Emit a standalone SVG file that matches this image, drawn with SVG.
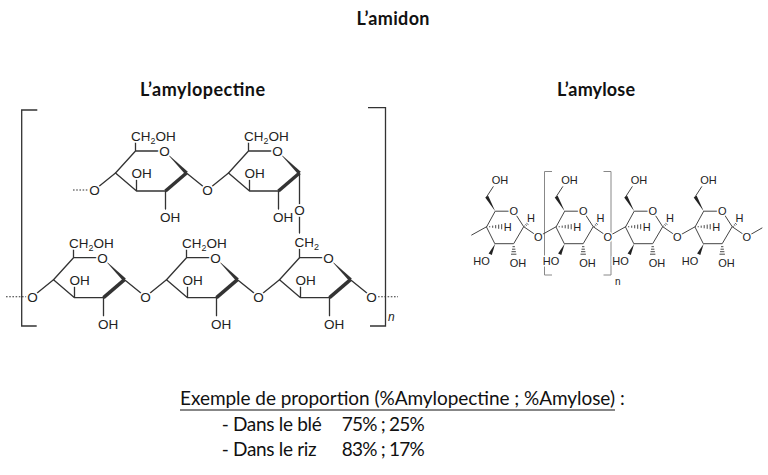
<svg xmlns="http://www.w3.org/2000/svg" width="768" height="475" viewBox="0 0 768 475">
<style>
.bg{fill:#fff}
.t{font-family:Lato,"Liberation Sans",sans-serif;fill:#111}
.tb{font-weight:bold;font-size:18px}
.tn{font-size:19px}
.b{fill:none;stroke:#333;stroke-width:1.3;stroke-linejoin:round;stroke-linecap:round}
.bold{stroke:#333;stroke-width:3.6}
.w{fill:#333;stroke:none}
.dash{fill:none;stroke:#333;stroke-width:1.1;stroke-dasharray:1.6 1.6}
.a{font-family:"Liberation Sans",Arial,sans-serif;font-size:13.5px;fill:#222;stroke:#fff;stroke-width:3.5;paint-order:stroke;stroke-linejoin:round}
.sub{font-size:9px}
.oc{fill:#fff}
.br{fill:none;stroke:#333;stroke-width:1.3}
.b2{fill:none;stroke:#444;stroke-width:1;stroke-linejoin:round;stroke-linecap:round}
.w2{fill:#222;stroke:none}
.h2{fill:none;stroke:#333;stroke-width:0.9}
.a2{font-family:"Liberation Sans",Arial,sans-serif;font-size:11px;fill:#222;stroke:#fff;stroke-width:3;paint-order:stroke;stroke-linejoin:round}
.br2{fill:none;stroke:#888;stroke-width:1}
</style>
<rect class="bg" width="768" height="475"/>

<g id="titles">
<text class="t tb" x="393" y="25" text-anchor="middle" textLength="73">L’amidon</text>
<text class="t tb" x="140" y="96" textLength="125">L’amylopectine</text>
<text class="t tb" x="557" y="96" textLength="78">L’amylose</text>
</g>

<!-- Amylopectine -->
<g id="amylopectine-brackets">
<polyline class="br" points="37.3,110 21.7,110 21.7,326 36.7,326"/>
<polyline class="br" points="368,107.7 385.5,107.7 385.5,326 370,326"/>
<text x="388" y="321" font-family="Liberation Sans,Arial,sans-serif" font-size="12" font-style="italic" fill="#222">n</text>
</g>

<g id="amylopectine-connectors">
<path class="dash" d="M73,190 H88 M6,296.7 H26.5 M378,296.7 H398"/>
<path class="b" d="M94.5,190 L115.5,173 M186.5,173 L207.5,190 L228.5,173 M299.5,173 V233 M299.5,249 V257.7"/>
<path class="b" d="M32.5,296.7 L53.5,279.7 M124.5,279.7 L145.5,296.7 L166.5,279.7 M237.5,279.7 L258.5,296.7 L279.5,279.7 M350.5,279.7 L371.5,296.7"/>
<circle class="oc" cx="94.5" cy="190" r="5.5"/>
<circle class="oc" cx="207.5" cy="190" r="5.5"/>
<circle class="oc" cx="299.5" cy="210" r="5.5"/>
<circle class="oc" cx="32.5" cy="296.7" r="5.5"/>
<circle class="oc" cx="145.5" cy="296.7" r="5.5"/>
<circle class="oc" cx="258.5" cy="296.7" r="5.5"/>
<circle class="oc" cx="371.5" cy="296.7" r="5.5"/>
<text class="a" x="94.5" y="194.8" text-anchor="middle">O</text>
<text class="a" x="207.5" y="194.8" text-anchor="middle">O</text>
<text class="a" x="299.5" y="214.8" text-anchor="middle">O</text>
<text class="a" x="32.5" y="301.5" text-anchor="middle">O</text>
<text class="a" x="145.5" y="301.5" text-anchor="middle">O</text>
<text class="a" x="258.5" y="301.5" text-anchor="middle">O</text>
<text class="a" x="371.5" y="301.5" text-anchor="middle">O</text>
</g>

<g id="glc-top-1" transform="translate(94.5,190)">
<path class="b" d="M71,1 L42,1 L21,-17 L41,-39 L70,-39 M41,-39 V-48 M42,1 V-10 M71,1 V19"/>
<polygon class="w" points="72,-37 93.3,-18.3 90.7,-15.7"/>
<line class="bold" x1="92" y1="-17" x2="71" y2="1"/>
<circle class="oc" cx="70" cy="-39" r="5.5"/>
<text class="a" x="70" y="-34.2" text-anchor="middle">O</text>
<text class="a" x="36.5" y="-49">CH<tspan class="sub" dy="3">2</tspan><tspan dy="-3">OH</tspan></text>
<text class="a" x="37" y="-12">OH</text>
<text class="a" x="65.5" y="32">OH</text>
</g>

<g id="glc-top-2" transform="translate(207.5,190)">
<path class="b" d="M71,1 L42,1 L21,-17 L41,-39 L70,-39 M41,-39 V-48 M42,1 V-10 M71,1 V19"/>
<polygon class="w" points="72,-37 93.3,-18.3 90.7,-15.7"/>
<line class="bold" x1="92" y1="-17" x2="71" y2="1"/>
<circle class="oc" cx="70" cy="-39" r="5.5"/>
<text class="a" x="70" y="-34.2" text-anchor="middle">O</text>
<text class="a" x="36.5" y="-49">CH<tspan class="sub" dy="3">2</tspan><tspan dy="-3">OH</tspan></text>
<text class="a" x="37" y="-12">OH</text>
<text class="a" x="65.5" y="32">OH</text>
</g>

<g id="glc-bottom-1" transform="translate(32.5,296.7)">
<path class="b" d="M71,1 L42,1 L21,-17 L41,-39 L70,-39 M41,-39 V-48 M42,1 V-10 M71,1 V19"/>
<polygon class="w" points="72,-37 93.3,-18.3 90.7,-15.7"/>
<line class="bold" x1="92" y1="-17" x2="71" y2="1"/>
<circle class="oc" cx="70" cy="-39" r="5.5"/>
<text class="a" x="70" y="-34.2" text-anchor="middle">O</text>
<text class="a" x="36.5" y="-49">CH<tspan class="sub" dy="3">2</tspan><tspan dy="-3">OH</tspan></text>
<text class="a" x="37" y="-12">OH</text>
<text class="a" x="65.5" y="32">OH</text>
</g>

<g id="glc-bottom-2" transform="translate(145.5,296.7)">
<path class="b" d="M71,1 L42,1 L21,-17 L41,-39 L70,-39 M41,-39 V-48 M42,1 V-10 M71,1 V19"/>
<polygon class="w" points="72,-37 93.3,-18.3 90.7,-15.7"/>
<line class="bold" x1="92" y1="-17" x2="71" y2="1"/>
<circle class="oc" cx="70" cy="-39" r="5.5"/>
<text class="a" x="70" y="-34.2" text-anchor="middle">O</text>
<text class="a" x="36.5" y="-49">CH<tspan class="sub" dy="3">2</tspan><tspan dy="-3">OH</tspan></text>
<text class="a" x="37" y="-12">OH</text>
<text class="a" x="65.5" y="32">OH</text>
</g>

<g id="glc-bottom-3" transform="translate(258.5,296.7)">
<path class="b" d="M71,1 L42,1 L21,-17 L41,-39 L70,-39 M42,1 V-10 M71,1 V19"/>
<polygon class="w" points="72,-37 93.3,-18.3 90.7,-15.7"/>
<line class="bold" x1="92" y1="-17" x2="71" y2="1"/>
<circle class="oc" cx="70" cy="-39" r="5.5"/>
<text class="a" x="70" y="-34.2" text-anchor="middle">O</text>
<text class="a" x="36" y="-49.5">CH<tspan class="sub" dy="3">2</tspan></text>
<text class="a" x="37" y="-12">OH</text>
<text class="a" x="65.5" y="32">OH</text>
</g>

<!-- Amylose -->
<g id="amylose-brackets">
<polyline class="br2" points="552,171.5 544.5,171.5 544.5,275 552,275"/>
<polyline class="br2" points="603.5,171.5 611,171.5 611,275 603.5,275"/>
<text x="615" y="285" font-family="Liberation Sans,Arial,sans-serif" font-size="10" fill="#222">n</text>
</g>

<g id="amylose-connectors">
<path class="b2" d="M471.7,235 L486.7,226.7 M523.7,226.7 L538.3,236.7 L556.2,226.7 M593.2,226.7 L607.8,236.7 L625.7,226.7 M662.7,226.7 L677.3,236.7 L695.2,226.7 M732.2,226.7 L746.8,236.7 L762,228"/>
<circle class="oc" cx="538.3" cy="236.7" r="4.6"/>
<circle class="oc" cx="607.8" cy="236.7" r="4.6"/>
<circle class="oc" cx="677.3" cy="236.7" r="4.6"/>
<circle class="oc" cx="746.8" cy="236.7" r="4.6"/>
<text class="a2" x="538.3" y="240.7" text-anchor="middle">O</text>
<text class="a2" x="607.8" y="240.7" text-anchor="middle">O</text>
<text class="a2" x="677.3" y="240.7" text-anchor="middle">O</text>
<text class="a2" x="746.8" y="240.7" text-anchor="middle">O</text>
</g>

<g id="amylose-1" transform="translate(486.7,226.7)">
<path class="b2" d="M0,0 L8.5,-15.5 L27,-15.5 L37,0 L27,17 L8.5,17 Z M0,-30 L6.5,-40"/>
<polygon class="w2" points="8.5,-15.5 1.5,-30.9 -1.5,-29.1"/>
<polygon class="w2" points="8.5,17 5.1,28.2 1.9,26.8"/>
<path class="h2" d="M3,-0.6 V0.6 M6,-1.1 V1.1 M9,-1.6 V1.6 M12,-2.1 V2.1 M15,-2.6 V2.6 M37.7,-0.8 L38.5,-0.2 M38.7,-2.2 L40.1,-1.2 M39.7,-3.6 L41.7,-2.2 M25.8,20 H28.2 M25.3,22.5 H28.7 M24.8,25 H29.2 M24.3,27.5 H29.7"/>
<circle class="oc" cx="27" cy="-15.5" r="4.6"/>
<text class="a2" x="27" y="-11.5" text-anchor="middle">O</text>
<text class="a2" x="44.3" y="-4.3" text-anchor="middle">H</text>
<text class="a2" x="21" y="4" text-anchor="middle">H</text>
<text class="a2" x="5" y="-43">OH</text>
<text class="a2" x="-13.5" y="38">HO</text>
<text class="a2" x="23" y="40.3">OH</text>
</g>

<g id="amylose-2" transform="translate(556.2,226.7)">
<path class="b2" d="M0,0 L8.5,-15.5 L27,-15.5 L37,0 L27,17 L8.5,17 Z M0,-30 L6.5,-40"/>
<polygon class="w2" points="8.5,-15.5 1.5,-30.9 -1.5,-29.1"/>
<polygon class="w2" points="8.5,17 5.1,28.2 1.9,26.8"/>
<path class="h2" d="M3,-0.6 V0.6 M6,-1.1 V1.1 M9,-1.6 V1.6 M12,-2.1 V2.1 M15,-2.6 V2.6 M37.7,-0.8 L38.5,-0.2 M38.7,-2.2 L40.1,-1.2 M39.7,-3.6 L41.7,-2.2 M25.8,20 H28.2 M25.3,22.5 H28.7 M24.8,25 H29.2 M24.3,27.5 H29.7"/>
<circle class="oc" cx="27" cy="-15.5" r="4.6"/>
<text class="a2" x="27" y="-11.5" text-anchor="middle">O</text>
<text class="a2" x="44.3" y="-4.3" text-anchor="middle">H</text>
<text class="a2" x="21" y="4" text-anchor="middle">H</text>
<text class="a2" x="5" y="-43">OH</text>
<text class="a2" x="-13.5" y="38">HO</text>
<text class="a2" x="23" y="40.3">OH</text>
</g>

<g id="amylose-3" transform="translate(625.7,226.7)">
<path class="b2" d="M0,0 L8.5,-15.5 L27,-15.5 L37,0 L27,17 L8.5,17 Z M0,-30 L6.5,-40"/>
<polygon class="w2" points="8.5,-15.5 1.5,-30.9 -1.5,-29.1"/>
<polygon class="w2" points="8.5,17 5.1,28.2 1.9,26.8"/>
<path class="h2" d="M3,-0.6 V0.6 M6,-1.1 V1.1 M9,-1.6 V1.6 M12,-2.1 V2.1 M15,-2.6 V2.6 M37.7,-0.8 L38.5,-0.2 M38.7,-2.2 L40.1,-1.2 M39.7,-3.6 L41.7,-2.2 M25.8,20 H28.2 M25.3,22.5 H28.7 M24.8,25 H29.2 M24.3,27.5 H29.7"/>
<circle class="oc" cx="27" cy="-15.5" r="4.6"/>
<text class="a2" x="27" y="-11.5" text-anchor="middle">O</text>
<text class="a2" x="44.3" y="-4.3" text-anchor="middle">H</text>
<text class="a2" x="21" y="4" text-anchor="middle">H</text>
<text class="a2" x="5" y="-43">OH</text>
<text class="a2" x="-13.5" y="38">HO</text>
<text class="a2" x="23" y="40.3">OH</text>
</g>

<g id="amylose-4" transform="translate(695.2,226.7)">
<path class="b2" d="M0,0 L8.5,-15.5 L27,-15.5 L37,0 L27,17 L8.5,17 Z M0,-30 L6.5,-40"/>
<polygon class="w2" points="8.5,-15.5 1.5,-30.9 -1.5,-29.1"/>
<polygon class="w2" points="8.5,17 5.1,28.2 1.9,26.8"/>
<path class="h2" d="M3,-0.6 V0.6 M6,-1.1 V1.1 M9,-1.6 V1.6 M12,-2.1 V2.1 M15,-2.6 V2.6 M37.7,-0.8 L38.5,-0.2 M38.7,-2.2 L40.1,-1.2 M39.7,-3.6 L41.7,-2.2 M25.8,20 H28.2 M25.3,22.5 H28.7 M24.8,25 H29.2 M24.3,27.5 H29.7"/>
<circle class="oc" cx="27" cy="-15.5" r="4.6"/>
<text class="a2" x="27" y="-11.5" text-anchor="middle">O</text>
<text class="a2" x="44.3" y="-4.3" text-anchor="middle">H</text>
<text class="a2" x="21" y="4" text-anchor="middle">H</text>
<text class="a2" x="5" y="-43">OH</text>
<text class="a2" x="-13.5" y="38">HO</text>
<text class="a2" x="23" y="40.3">OH</text>
</g>

<g id="proportions">
<text class="t tn" x="180" y="405" textLength="435">Exemple de proportion (%Amylopectine ; %Amylose)</text>
<line x1="180" y1="410" x2="615" y2="410" stroke="#111" stroke-width="1.2"/>
<text class="t tn" x="620" y="405">:</text>
<text class="t tn" x="221.7" y="431" textLength="100">- Dans le blé</text>
<text class="t tn" x="341.7" y="431" textLength="83">75% ; 25%</text>
<text class="t tn" x="221.7" y="456" textLength="95">- Dans le riz</text>
<text class="t tn" x="341.7" y="456" textLength="83">83% ; 17%</text>
</g>
</svg>
